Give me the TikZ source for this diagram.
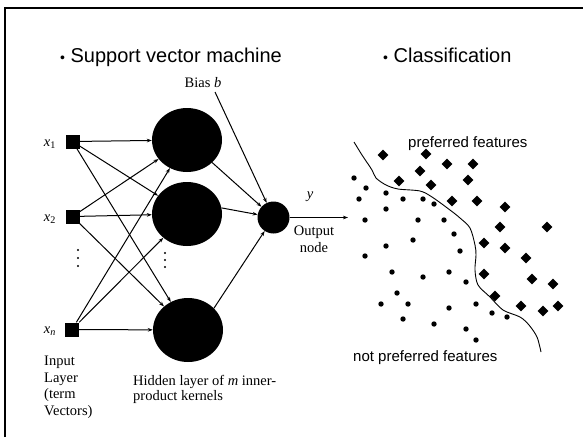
\documentclass[tikz,border=0pt]{standalone}
\usepackage{fontspec}
\setmainfont{Liberation Serif}
\setsansfont{Liberation Sans}
\usetikzlibrary{arrows.meta,shapes.geometric}
\begin{document}
\begin{tikzpicture}[x=1pt,y=-1pt,
  sq/.style={rectangle,fill=black,minimum size=14pt,inner sep=0pt},
  hid/.style={ellipse,fill=black,minimum width=70pt,minimum height=64pt,inner sep=0pt},
  outn/.style={circle,fill=black,minimum size=32pt,inner sep=0pt},
  con/.style={line width=1pt,-{Stealth[length=5pt,width=3.6pt]}},
  ttl/.style={font=\sffamily\fontsize{20}{24}\selectfont,anchor=base west,inner sep=0pt},
  lbl/.style={font=\sffamily\fontsize{15}{18}\selectfont,anchor=base west,inner sep=0pt},
  srf/.style={font=\rmfamily\fontsize{14.5}{16.6}\selectfont,inner sep=0pt},
  dia/.style={diamond,fill=black,minimum width=11pt,minimum height=11pt,inner sep=0pt},
  pt/.style={circle,fill=black,minimum size=5.4pt,inner sep=0pt},
  vd/.style={circle,fill=black,minimum size=2.4pt,inner sep=0pt},
  frame/.style={line width=1.4pt},
  bnd/.style={line width=0.9pt}
]
\useasboundingbox[fill=white] (0,0) rectangle (583,437);
% frame
\draw[frame] (5,437) -- (5,8) -- (583,8);

% titles
\node[ttl] (t1) at (60,62) {{\fontsize{14}{14}\selectfont •} Support vector machine};
\node[ttl] (t2) at (383,62) {{\fontsize{14}{14}\selectfont •} Classification};

% network nodes
\node[sq] (x1) at (72.5,141.5) {};
\node[sq] (x2) at (72.5,216.5) {};
\node[sq] (xn) at (72,329.5) {};
\node[hid] (h1) at (187,140) {};
\node[hid] (h2) at (187,214) {};
\node[hid] (h3) at (188,330) {};
\node[outn] (o) at (273.5,217.5) {};
\coordinate (bs) at (215,92);
\coordinate (oe) at (348,217.5);

% labels
\node[srf] (lx1) at (50,144) {\textit{x}\textsubscript{1}};
\node[srf] (lx2) at (50,219) {\textit{x}\textsubscript{2}};
\node[srf] (lxn) at (50,331) {\textit{x}\textsubscript{\textit{n}}};
\node[srf,anchor=base] (lb) at (203,87) {Bias \textit{b}};
\node[srf] (ly) at (310,197) {\textit{y}};
\node[srf,align=center,anchor=north] (lo) at (314,226) {Output\\node};
\node[srf,align=left,anchor=north west] (lin) at (44,356) {Input\\Layer\\(term\\Vectors)};
\node[srf,align=left,anchor=north west,font=\rmfamily\fontsize{14.5}{15.5}\selectfont] (lhid) at (133,375) {Hidden layer of \textit{m} inner-\\product kernels};

% vertical dots
\foreach \yy [count=\i] in {250,258,266} \node[vd] (dl\i) at (78,\yy) {};
\foreach \yy [count=\i] in {253,260,267} \node[vd] (dh\i) at (165,\yy) {};

% connectors
\foreach \a in {x1,x2,xn} \foreach \b in {h1,h2,h3} \draw[con] (\a) -- (\b);
\draw[con] (h1) -- (o);
\draw[con] (h2.10) -- (o);
\draw[con] (h3.40) -- (o);
\draw[con] (bs) -- (o);
\draw[con] (o) -- (oe);

% classification
\node[lbl] (pf) at (408,147) {preferred features};
\node[lbl] (npf) at (353,361) {not preferred features};
\draw[bnd] plot[smooth,tension=0.5] coordinates {(354,142) (362,155) (372,170) (376,178) (386,185) (398,189) (420,191) (432,197) (450,210) (460,218) (470,228) (475,245) (476,255) (475,270) (478,285) (490,297) (503,310) (520,317) (529,325) (537,337) (541,352)};

\foreach \p [count=\i] in {(383,155),(426,154),(420,171),(447,164),(473,164),(399,181),(431,185),(468,180),(452,201),(477,201),(505,207),(500,227),(547,227),(484,243),(505,248),(526,258),(484,274),(532,279),(553,284),(495,296),(521,306),(543,311),(558,306)}
  \node[dia] (d\i) at \p {};

\foreach \p [count=\i] in {(354,178),(366,188),(359,199),(386,193),(403,199),(423,199),(434,204),(386,209),(365,220),(418,220),(444,220),(454,234),(413,240),(386,246),(460,251),(365,256),(392,272),(423,277),(449,272),(466,282),(397,293),(381,304),(408,304),(449,308),(476,304),(492,313),(507,317),(403,319),(434,324),(466,329),(476,340)}
  \node[pt] (p\i) at \p {};
\end{tikzpicture}
\end{document}
